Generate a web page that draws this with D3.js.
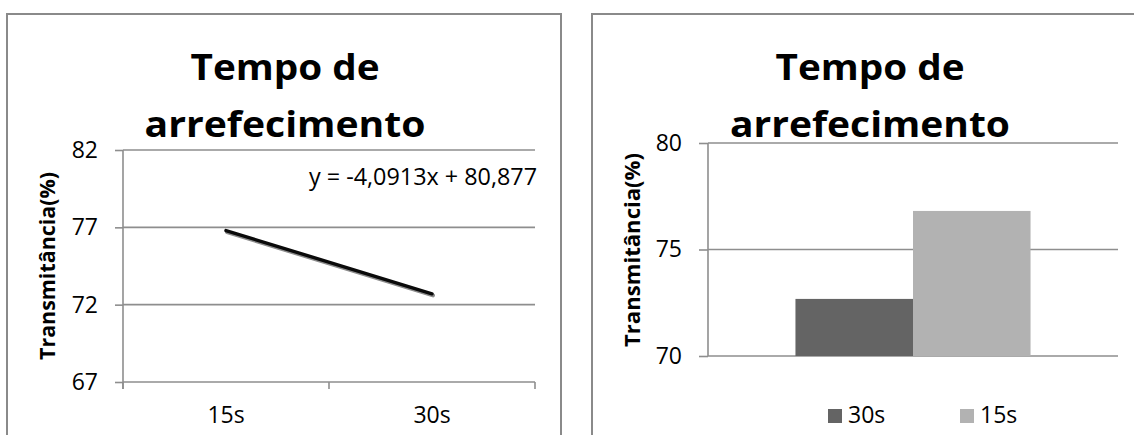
<!DOCTYPE html>
<html>
<head>
<meta charset="utf-8">
<script src="https://cdn.jsdelivr.net/npm/d3@7"></script>
<style>
  html, body { margin: 0; padding: 0; background: #fff; }
  svg { display: block; font-family: "Open Sans", "Noto Sans", sans-serif; }
</style>
</head>
<body>
<svg id="chart" width="1134" height="435"></svg>
<script>
// ---- data ----
const titleLines = ["Tempo de", "arrefecimento"];
const yAxisLabel = "Transmitância(%)";
const lineCategories = ["15s", "30s"];
const lineValues = [76.79, 72.70];
const lineTicks = [67, 72, 77, 82];
const trendEquation = "y = -4,0913x + 80,877";
const barSeries = ["30s", "15s"];
const barValues = [72.68, 76.81];
const barTicks = [70, 75, 80];
const barColors = ["#646464", "#b2b2b2"];

const svg = d3.select("#chart");
const gridColor = "#8e8e8e";
const frameColor = "#8a8a8a";
const tickFont = 23;

// frames
svg.append("rect").attr("x", 7).attr("y", 14).attr("width", 554).attr("height", 500)
  .attr("fill", "none").attr("stroke", frameColor).attr("stroke-width", 2);
svg.append("rect").attr("x", 592).attr("y", 14).attr("width", 600).attr("height", 500)
  .attr("fill", "none").attr("stroke", frameColor).attr("stroke-width", 2);

function title(cx, widths) {
  const base = [80, 137];
  titleLines.forEach((t, i) => {
    svg.append("text").attr("x", cx).attr("y", base[i])
      .attr("text-anchor", "middle").attr("font-weight", "bold").attr("font-size", 36)
      .attr("textLength", widths[i]).attr("lengthAdjust", "spacingAndGlyphs")
      .attr("fill", "#000").text(t);
  });
}
function yLabel(cx, cy, len) {
  svg.append("text").attr("transform", `translate(${cx},${cy}) rotate(-90)`)
    .attr("text-anchor", "middle").attr("dy", "0.35em")
    .attr("font-weight", "bold").attr("font-size", 21)
    .attr("textLength", len).attr("lengthAdjust", "spacingAndGlyphs")
    .attr("fill", "#000").text(yAxisLabel);
}

// ---------------- Left: line chart ----------------
{
  const x = d3.scaleBand().domain(lineCategories).range([123, 535]).padding(0);
  const y = d3.scaleLinear().domain([67, 82]).range([382, 150]);
  const g = svg.append("g");

  g.selectAll("line.grid").data(lineTicks).join("line")
    .attr("x1", 123).attr("x2", 535)
    .attr("y1", d => y(d)).attr("y2", d => y(d))
    .attr("stroke", gridColor).attr("stroke-width", 1.6);

  const ya = g.append("g").attr("transform", "translate(123,0)")
    .call(d3.axisLeft(y).tickValues(lineTicks).tickSize(8).tickPadding(17));
  ya.select(".domain").remove();
  ya.selectAll(".tick line").attr("stroke", gridColor).attr("stroke-width", 1.6);
  ya.selectAll(".tick text").attr("font-size", tickFont).attr("font-family", "Open Sans").attr("fill", "#000");
  g.append("line").attr("x1", 123).attr("x2", 123).attr("y1", y(82)).attr("y2", y(67) + 7)
    .attr("stroke", gridColor).attr("stroke-width", 1.6);

  const xa = g.append("g").attr("transform", `translate(0,${y(67)})`)
    .call(d3.axisBottom(x).tickSize(0).tickPadding(25));
  xa.select(".domain").remove();
  xa.selectAll(".tick text").attr("font-size", tickFont).attr("font-family", "Open Sans").attr("fill", "#000");
  const bounds = [x.range()[0]].concat(lineCategories.map(c => x(c) + x.bandwidth()));
  g.selectAll("line.xt").data(bounds).join("line")
    .attr("x1", d => d).attr("x2", d => d)
    .attr("y1", y(67)).attr("y2", y(67) + 7)
    .attr("stroke", gridColor).attr("stroke-width", 1.6);

  const pts = lineCategories.map((c, i) => [x(c) + x.bandwidth() / 2, y(lineValues[i])]);
  const lg = d3.line();
  g.append("path").attr("d", lg(pts)).attr("transform", "translate(1,1.5)")
    .attr("fill", "none").attr("stroke", "#8c8c8c").attr("stroke-width", 4).attr("stroke-linecap", "round");
  g.append("path").attr("d", lg(pts))
    .attr("fill", "none").attr("stroke", "#0a0a0a").attr("stroke-width", 3.4).attr("stroke-linecap", "round");

  g.append("text").attr("x", 309).attr("y", 185).attr("font-size", tickFont)
    .attr("textLength", 228).attr("lengthAdjust", "spacingAndGlyphs")
    .attr("fill", "#000").text(trendEquation);

  title(285, [189, 281]);
  yLabel(48, 266, 188);
}

// ---------------- Right: bar chart ----------------
{
  const y = d3.scaleLinear().domain([70, 80]).range([356, 143]);
  const x0 = d3.scaleBand().domain(["grp"]).range([708, 1118]).paddingInner(0).paddingOuter(0.372);
  const x1 = d3.scaleBand().domain(barSeries).range([0, x0.bandwidth()]).padding(0);
  const g = svg.append("g");

  g.selectAll("line.grid").data(barTicks).join("line")
    .attr("x1", 708).attr("x2", 1118)
    .attr("y1", d => y(d)).attr("y2", d => y(d))
    .attr("stroke", gridColor).attr("stroke-width", 1.6);

  const ya = g.append("g").attr("transform", "translate(708,0)")
    .call(d3.axisLeft(y).tickValues(barTicks).tickSize(9).tickPadding(17));
  ya.select(".domain").remove();
  ya.selectAll(".tick line").attr("stroke", gridColor).attr("stroke-width", 1.6);
  ya.selectAll(".tick text").attr("font-size", tickFont).attr("font-family", "Open Sans").attr("fill", "#000");
  g.append("line").attr("x1", 708).attr("x2", 708).attr("y1", y(80)).attr("y2", y(70))
    .attr("stroke", gridColor).attr("stroke-width", 1.6);

  g.selectAll("rect.bar").data(barSeries).join("rect")
    .attr("x", (d) => x0("grp") + x1(d))
    .attr("width", x1.bandwidth())
    .attr("y", (d, i) => y(barValues[i]))
    .attr("height", (d, i) => y(70) - y(barValues[i]))
    .attr("fill", (d, i) => barColors[i]);

  const legX = [828, 960];
  barSeries.forEach((s, i) => {
    g.append("rect").attr("x", legX[i]).attr("y", 409).attr("width", 14).attr("height", 14)
      .attr("fill", barColors[i]);
    g.append("text").attr("x", legX[i] + 20).attr("y", 423).attr("font-size", tickFont)
      .attr("fill", "#000").text(s);
  });

  title(870, [189, 280]);
  yLabel(633, 250, 194);
}
</script>
</body>
</html>
